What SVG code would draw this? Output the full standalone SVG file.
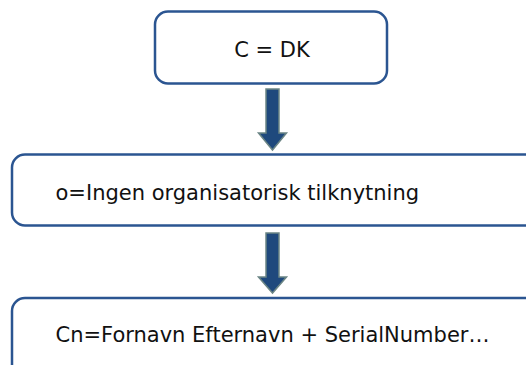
<svg xmlns="http://www.w3.org/2000/svg" width="526" height="365" viewBox="0 0 526 365">
<style>
.box{fill:#ffffff;stroke:#2B5591;stroke-width:2.5}
.arrow{fill:#1F497D;stroke:#6B8585;stroke-width:1.5;stroke-linejoin:miter}
.lbl{font-family:"DejaVu Sans","Verdana",sans-serif;font-size:21px;fill:#111111}
</style>
<rect width="526" height="365" fill="#ffffff"/>
<g id="connectors">
<path class="arrow" d="M266,89 H279 V133 H286.5 L272.5,150 L258.5,133 H266 Z"/>
<path class="arrow" d="M266,233 H279 V277 H286.5 L272.5,293 L258.5,277 H266 Z"/>
</g>
<g id="node-c">
<rect class="box" x="155" y="11.5" width="232" height="72" rx="13"/>
<text class="lbl" x="272" y="56.5" text-anchor="middle">C = DK</text>
</g>
<g id="node-o">
<rect class="box" x="12" y="154.5" width="540" height="71" rx="13"/>
<text class="lbl" x="55.5" y="199.5">o=Ingen organisatorisk tilknytning</text>
</g>
<g id="node-cn">
<rect class="box" x="12" y="298" width="540" height="90" rx="13"/>
<text class="lbl" x="55.5" y="342">Cn=Fornavn Efternavn + SerialNumber…</text>
</g>
</svg>
